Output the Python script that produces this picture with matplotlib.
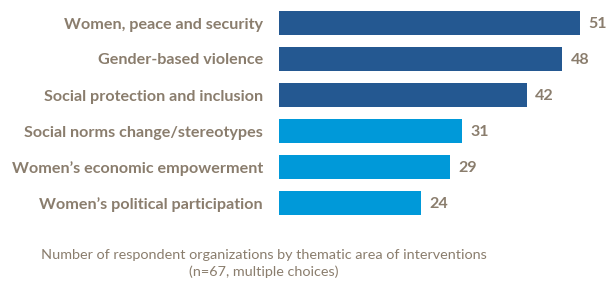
import matplotlib.pyplot as plt

# Data
categories = ['Women, peace and security', 'Gender-based violence',
              'Social protection and inclusion', 'Social norms change/stereotypes',
              "Women\u2019s economic empowerment", "Women\u2019s political participation"]
counts = [51, 48, 42, 31, 29, 24]
bar_colours = ['#245891', '#245891', '#245891', '#0099d9', '#0099d9', '#0099d9']

text_colour = '#8a7d6d'
plt.rcParams['font.family'] = ['Lato', 'DejaVu Sans']

W, H = 607, 284
fig = plt.figure(figsize=(W / 100, H / 100), dpi=100)

# axes placed in pixel terms: bars start at x=279, 51 ends at x=580
left, right = 279, 580
top, bottom = 5, 221
ax = fig.add_axes([left / W, 1 - bottom / H, (right - left) / W, (bottom - top) / H])

ypos = list(range(len(categories)))
ax.barh(ypos, counts, height=24 / 36, color=bar_colours)
ax.set_xlim(0, 51)
ax.set_ylim(len(categories) - 0.5, -0.5)

ax.set_yticks(ypos)
ax.set_yticklabels(categories, fontsize=11.6, fontweight='bold', color=text_colour)
ax.tick_params(axis='y', length=0, pad=11.5)
ax.set_xticks([])
for s in ax.spines.values():
    s.set_visible(False)

for y, v in zip(ypos, counts):
    ax.annotate(str(v), (v, y), xytext=(6, -1), textcoords='offset points',
                va='center', ha='left', fontsize=11.5, fontweight='bold', color=text_colour)

fig.text(264 / W, 1 - 255 / H, 'Number of respondent organizations by thematic area of interventions',
         ha='center', va='center', fontsize=10.4, color=text_colour)
fig.text(264 / W, 1 - 272 / H, '(n=67, multiple choices)',
         ha='center', va='center', fontsize=10.4, color=text_colour)

fig.savefig('out.png', dpi=100)
